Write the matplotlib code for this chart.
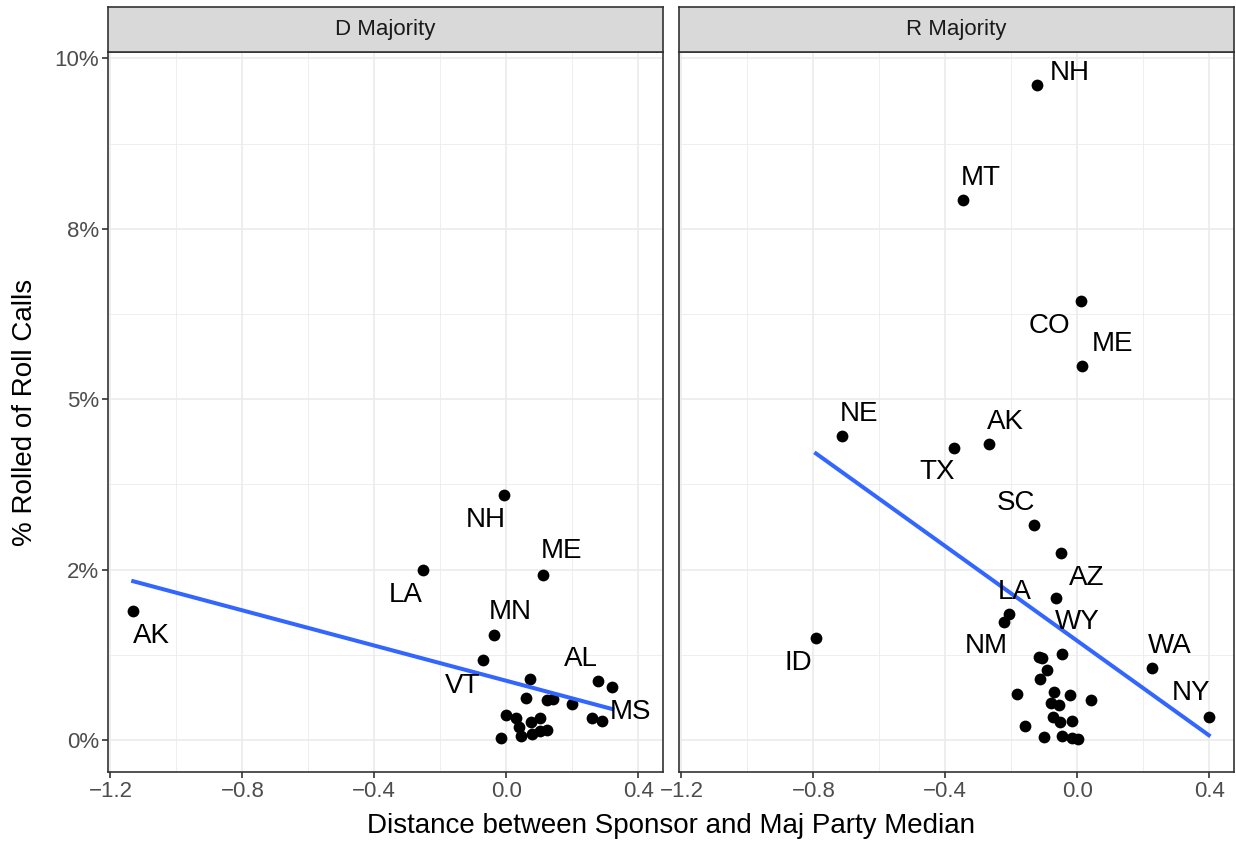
import numpy as np
from matplotlib import pyplot as plt
from matplotlib import rcParams
from matplotlib.ticker import FixedLocator, FuncFormatter

rcParams["font.family"] = ["Liberation Sans", "DejaVu Sans"]

# D majority panel: labelled states, then unlabelled sponsors
d_states = ["AK", "LA", "NH", "ME", "MN", "VT", "AL", "MS"]
d_x_lab = [-1.131, -0.253, -0.008, 0.112, -0.038, -0.071, 0.277, 0.322]
d_y_lab = [1.89, 2.50, 3.60, 2.42, 1.54, 1.17, 0.87, 0.78]
d_x_rest = [0.073, 0.059, 0.125, 0.141, 0.201, 0.259, 0.290, 0.000, 0.029,
            0.039, 0.045, 0.075, 0.101, 0.078, 0.103, 0.125, -0.015]
d_y_rest = [0.89, 0.61, 0.59, 0.60, 0.53, 0.32, 0.28, 0.37, 0.32,
            0.19, 0.06, 0.26, 0.32, 0.09, 0.13, 0.15, 0.03]
d_fit = (0.869, -1.291)  # intercept, slope of the lm line

# R majority panel
r_states = ["NH", "MT", "CO", "ME", "NE", "TX", "AK", "ID",
            "SC", "AZ", "WY", "LA", "NM", "WA", "NY"]
r_x_lab = [-0.123, -0.346, 0.013, 0.014, -0.712, -0.374, -0.268, -0.792,
           -0.131, -0.050, -0.064, -0.206, -0.223, 0.226, 0.399]
r_y_lab = [9.61, 7.93, 6.44, 5.48, 4.46, 4.29, 4.35, 1.50,
           3.16, 2.74, 2.08, 1.85, 1.73, 1.05, 0.33]
r_x_rest = [-0.046, -0.107, -0.116, -0.092, -0.112, -0.183, -0.070, -0.023,
            0.042, -0.080, -0.056, -0.072, -0.052, -0.016, -0.158, -0.100,
            -0.046, -0.016, 0.002]
r_y_rest = [1.26, 1.20, 1.22, 1.02, 0.89, 0.67, 0.70, 0.66,
            0.59, 0.54, 0.51, 0.34, 0.26, 0.28, 0.21, 0.05,
            0.06, 0.03, 0.01]
r_fit = (1.455, -3.47)

# label offsets in pixels (text centre relative to point)
d_offsets = [(18, -25), (-17, -25), (-18, -25), (18, 24), (17, 23),
             (-20, -26), (-17, 22), (18, -25)]
r_offsets = [(33, 12), (18, 22), (-32, -25), (31, 22), (17, 22), (-17, -24),
             (17, 22), (-18, -25), (-18, 22), (26, -25), (21, -24), (5, 22),
             (-17, -24), (18, 22), (-18, 24)]

panels = [
    dict(title="D Majority", states=d_states, xl=d_x_lab, yl=d_y_lab,
         xr=d_x_rest, yr=d_y_rest, offsets=d_offsets, fit=d_fit),
    dict(title="R Majority", states=r_states, xl=r_x_lab, yl=r_y_lab,
         xr=r_x_rest, yr=r_y_rest, offsets=r_offsets, fit=r_fit),
]

GRID = "#EBEBEB"
DARK = "#333333"
W, H = 1236, 846

# shared scales with ggplot-style 5% expansion
all_x = np.concatenate([np.r_[p["xl"], p["xr"]] for p in panels])
all_y = np.concatenate([np.r_[p["yl"], p["yr"]] for p in panels])
xpad = 0.05 * (all_x.max() - all_x.min())
ypad = 0.05 * (all_y.max() - all_y.min())
xlim = (all_x.min() - xpad, all_x.max() + xpad)
ylim = (all_y.min() - ypad, all_y.max() + ypad)

fig = plt.figure(figsize=(W / 100, H / 100), dpi=100)
lefts = [108, 679]
pw = 555
top, bottom = 52.3, 772
strip_h = 45.6

for i, (p, left) in enumerate(zip(panels, lefts)):
    ax = fig.add_axes([left / W, 1 - bottom / H, pw / W, (bottom - top) / H])
    x = np.r_[p["xl"], p["xr"]]
    y = np.r_[p["yl"], p["yr"]]
    ax.scatter(x, y, s=72, color="black", zorder=3, linewidths=0)
    # linear fit over the data range
    icept, slope = p["fit"]
    xs = np.array([x.min(), x.max()])
    ax.plot(xs, icept + slope * xs, color="#3366FF", lw=2.9, zorder=4)
    for name, xv, yv, off in zip(p["states"], p["xl"], p["yl"], p["offsets"]):
        ax.annotate(name, (xv, yv), xytext=off, textcoords="offset pixels",
                    ha="center", va="center", fontsize=20, color="black",
                    zorder=5)
    ax.set_xlim(xlim)
    ax.set_ylim(ylim)
    ax.xaxis.set_major_locator(FixedLocator([-1.2, -0.8, -0.4, 0.0, 0.4]))
    ax.xaxis.set_minor_locator(FixedLocator([-1.0, -0.6, -0.2, 0.2]))
    ax.yaxis.set_major_locator(FixedLocator([0, 2.5, 5, 7.5, 10]))
    ax.yaxis.set_minor_locator(FixedLocator([1.25, 3.75, 6.25, 8.75]))
    ax.xaxis.set_major_formatter(FuncFormatter(lambda v, pos: f"{v:.1f}".replace("-", "\u2212")))
    ax.yaxis.set_major_formatter(FuncFormatter(lambda v, pos: f"{round(v)}%"))
    ax.grid(which="major", color=GRID, lw=1.2, zorder=0)
    ax.grid(which="minor", color=GRID, lw=0.6, zorder=0)
    ax.set_axisbelow(True)
    ax.tick_params(which="major", length=4.3, width=1.2, color=DARK,
                   labelsize=16, labelcolor="#4D4D4D", pad=2)
    ax.tick_params(which="minor", length=0)
    for sp in ax.spines.values():
        sp.set_color(DARK)
        sp.set_linewidth(1.2)
    if i == 1:
        ax.tick_params(axis="y", which="both", left=False, labelleft=False)
    # facet strip
    sax = fig.add_axes([left / W, 1 - top / H, pw / W, strip_h / H])
    sax.set_facecolor("#D9D9D9")
    sax.set_xticks([])
    sax.set_yticks([])
    for sp in sax.spines.values():
        sp.set_color(DARK)
        sp.set_linewidth(1.2)
    sax.text(0.5, 0.5, p["title"], ha="center", va="center", fontsize=16,
             color="#1A1A1A", transform=sax.transAxes)

fig.text((108 + 1234) / 2 / W, 1 - 826 / H,
         "Distance between Sponsor and Maj Party Median",
         ha="center", va="center", fontsize=20)
fig.text(25 / W, 1 - 412 / H, "% Rolled of Roll Calls", rotation=90,
         ha="center", va="center", fontsize=20)

fig.savefig("out.png", dpi=100, facecolor="white")
